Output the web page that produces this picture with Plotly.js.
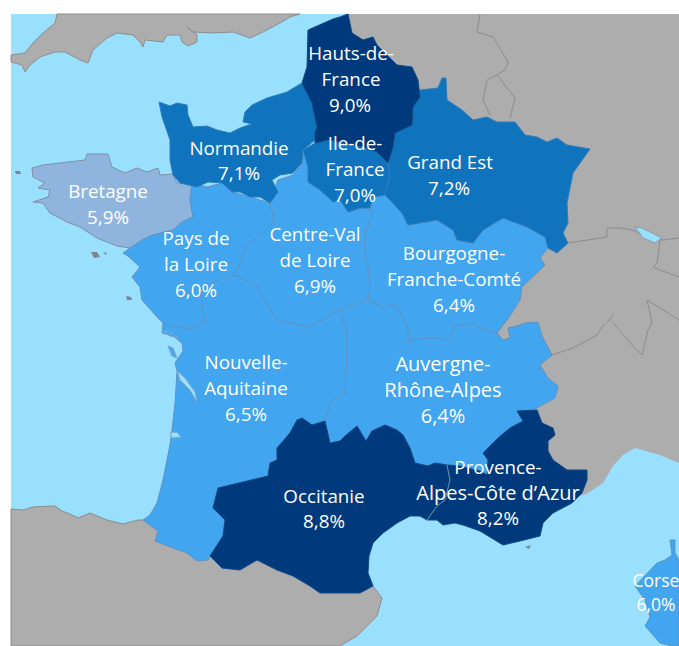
<!DOCTYPE html>
<html><head><meta charset="utf-8">
<script src="https://cdn.plot.ly/plotly-3.0.1.min.js"></script>
<style>html,body{margin:0;padding:0;background:#fff}#c{width:679px;height:646px}</style></head>
<body><div id="c"></div>
<script>
const regionNames=["Bretagne","Pays de la Loire","Centre-Val de Loire","Bourgogne-Franche-Comté","Nouvelle-Aquitaine","Auvergne-Rhône-Alpes","Corse","Normandie","Ile-de-France","Grand Est","Hauts-de-France","Occitanie","Provence-Alpes-Côte d’Azur"];
const regionRates=["5,9%","6,0%","6,9%","6,4%","6,5%","6,4%","6,0%","7,1%","7,0%","7,2%","9,0%","8,8%","8,2%"];

const seaColor="#99e0ff", landColor="#adadad", lightBlue="#41a5ef", midBlue="#0f73bd", darkBlue="#003a7d", paleBlue="#8fb5df";
const regionColors=[paleBlue,lightBlue,lightBlue,lightBlue,lightBlue,lightBlue,lightBlue,midBlue,midBlue,midBlue,darkBlue,darkBlue,darkBlue];
const regionEdges=["#7f8fa5","#5f93c4","#5f93c4","#5f93c4","#5f93c4","#5f93c4","#5f93c4","#2f7fbd","#2f7fbd","#2f7fbd","#0f4a86","#0f4a86","#0f4a86"];

const sea=[[11,14],[679,14],[679,646],[11,646]];
const uk=[[57,14],[55,23],[43,33],[33,43],[25,53],[11,55],[11,62],[22,65],[25,72],[30,65],[40,57],[55,52],[65,52],[80,60],[88,63],[93,50],[107,38],[117,33],[133,35],[140,42],[143,47],[145,40],[163,42],[167,35],[180,35],[182,42],[188,46],[197,42],[197,35],[187,27],[193,32],[213,33],[233,32],[250,38],[263,32],[280,23],[290,17],[300,14]];
const continent=[[348,14],[679,14],[679,463],[660,455],[635,448],[623,455],[613,466],[603,483],[588,493],[575,498],[500,400],[350,300]];
const spain=[[11,509],[23,510],[33,507],[55,506],[62,511],[70,514],[78,518],[90,513],[107,520],[123,524],[138,520],[143,520],[200,530],[360,560],[373,586],[382,598],[377,616],[357,636],[340,646],[11,646]];

const bretagne=[[32,168],[43,165],[60,163],[85,160],[87,154],[108,154],[112,167],[125,173],[137,168],[147,172],[158,168],[160,175],[173,174],[177,183],[192,183],[190,200],[193,217],[182,222],[173,230],[153,235],[142,240],[130,248],[117,246],[97,238],[80,227],[67,222],[50,213],[43,203],[33,202],[48,197],[50,190],[38,188],[45,183],[33,177]];
const paysDeLaLoire=[[192,183],[207,187],[222,183],[232,192],[250,197],[270,203],[273,213],[273,223],[263,233],[247,245],[240,263],[235,275],[220,280],[200,290],[205,323],[190,329],[170,326],[163,323],[157,317],[142,300],[140,287],[132,277],[140,267],[128,256],[123,253],[130,248],[142,240],[153,235],[173,230],[182,222],[193,217],[190,200]];
const centreValDeLoire=[[270,203],[278,180],[293,175],[303,163],[303,150],[308,167],[308,182],[320,190],[333,202],[340,200],[348,212],[360,208],[370,208],[372,217],[365,233],[365,250],[368,267],[370,287],[368,300],[340,310],[310,327],[277,320],[257,287],[235,275],[240,263],[247,245],[263,233],[273,223],[273,213]];
const bourgogneFC=[[373,197],[385,195],[402,213],[408,225],[437,220],[453,230],[457,240],[473,243],[483,230],[503,218],[527,227],[545,237],[548,248],[540,258],[545,265],[533,277],[522,287],[520,300],[507,320],[497,333],[480,328],[472,323],[455,326],[450,340],[427,338],[408,341],[408,330],[403,318],[395,304],[383,308],[368,300],[370,287],[368,267],[365,250],[365,233],[372,217],[370,208]];
const nouvelleAquitaine=[[163,323],[162,333],[173,336],[182,343],[183,351],[175,363],[177,371],[176,390],[175,403],[172,430],[170,445],[163,480],[157,503],[150,515],[143,520],[158,531],[155,541],[173,548],[187,553],[197,561],[208,560],[210,556],[223,536],[225,520],[213,508],[218,488],[240,483],[268,476],[270,463],[277,460],[277,448],[290,433],[297,420],[302,418],[312,425],[325,421],[330,403],[345,393],[347,360],[347,330],[340,310],[310,327],[277,320],[257,287],[235,275],[220,280],[200,290],[205,323],[190,329],[170,326]];
const auvergneRA=[[340,310],[368,300],[383,308],[395,304],[403,318],[408,330],[408,341],[427,338],[450,340],[455,326],[472,323],[480,328],[497,333],[503,340],[510,338],[508,328],[517,326],[525,323],[538,322],[542,336],[552,355],[540,365],[548,378],[558,386],[555,398],[537,408],[533,410],[517,411],[523,421],[510,428],[498,438],[490,446],[483,453],[488,460],[487,475],[480,471],[460,466],[447,465],[435,463],[428,466],[415,463],[410,448],[403,435],[397,430],[385,425],[372,431],[366,441],[357,426],[345,436],[340,441],[330,443],[325,421],[330,403],[345,393],[347,360],[347,330]];
const corse=[[670,540],[675,540],[675,553],[679,560],[679,646],[672,646],[660,643],[645,626],[650,617],[645,600],[635,586],[647,573],[657,563],[665,560],[672,555]];
const normandie=[[159,102],[170,106],[177,103],[187,105],[188,115],[193,127],[207,126],[217,130],[230,133],[240,128],[252,124],[243,122],[245,112],[252,105],[267,98],[287,92],[302,83],[312,103],[317,127],[315,140],[303,150],[302,163],[293,173],[280,175],[272,180],[278,192],[270,203],[260,197],[250,197],[240,192],[232,192],[222,183],[208,182],[197,187],[180,183],[173,175],[170,160],[170,140],[162,117]];
const ileDeFrance=[[303,150],[315,143],[328,140],[340,142],[368,148],[377,152],[388,163],[390,177],[385,195],[373,197],[370,208],[360,208],[348,212],[340,200],[333,202],[320,190],[308,182],[308,167]];
const grandEst=[[388,163],[393,147],[395,133],[412,125],[413,107],[420,90],[438,88],[442,78],[446,78],[447,100],[462,110],[473,120],[487,117],[497,122],[515,122],[525,135],[537,137],[547,142],[557,138],[567,145],[590,149],[573,173],[567,203],[568,223],[563,233],[568,243],[557,253],[548,248],[545,237],[527,227],[503,218],[483,230],[473,243],[457,240],[453,230],[437,220],[408,225],[402,213],[390,200],[385,195],[390,177]];
const hautsDeFrance=[[308,30],[320,25],[333,19],[340,17],[348,14],[352,33],[363,40],[373,37],[377,45],[385,53],[397,65],[412,67],[418,80],[420,97],[413,107],[412,125],[395,133],[393,147],[388,163],[377,152],[368,148],[340,142],[328,140],[315,143],[315,133],[317,127],[312,103],[302,83],[307,67]];
const occitanie=[[325,421],[330,443],[340,441],[345,436],[357,426],[366,441],[372,431],[385,425],[397,430],[403,435],[410,448],[415,463],[428,466],[435,463],[447,465],[450,480],[445,500],[437,506],[427,520],[420,516],[410,516],[397,523],[383,533],[373,543],[369,556],[368,573],[373,586],[360,593],[340,593],[320,593],[310,586],[293,576],[277,570],[257,560],[240,570],[222,568],[210,556],[223,536],[225,520],[213,508],[218,488],[240,483],[268,476],[270,463],[277,460],[277,448],[290,433],[297,420],[302,418],[312,425]];
const paca=[[447,465],[460,466],[480,471],[487,475],[488,460],[483,453],[490,446],[498,438],[510,428],[523,421],[517,411],[533,410],[537,410],[542,423],[553,428],[555,435],[548,441],[548,451],[553,460],[567,470],[587,470],[587,480],[582,493],[572,503],[553,513],[543,523],[540,536],[520,541],[503,545],[480,531],[463,525],[455,523],[443,525],[437,520],[427,520],[437,506],[445,500],[450,480]];
const regionShapes=[bretagne,paysDeLaLoire,centreValDeLoire,bourgogneFC,nouvelleAquitaine,auvergneRA,corse,normandie,ileDeFrance,grandEst,hautsDeFrance,occitanie,paca];

const estuary=[[177,371],[185,378],[195,392],[197,402],[190,390],[180,380]];
const arcachon=[[170,433],[177,432],[181,437],[172,438]];
const bodensee=[[635,227],[642,228],[662,238],[655,243],[643,238]];
const oleron=[[168,346],[173,348],[177,358],[172,356]];
const re=[[162,331],[170,332],[179,338],[170,336]];
const islands=[[[91,252],[97,252],[100,257],[94,258]],[[126,296],[131,297],[132,300],[127,300]],[[15,171],[20,171],[21,174],[16,174]],[[103,252],[107,253],[106,255]],[[525,547],[531,545],[529,549]]];

const borderLines=[
 [[480,14],[477,32],[493,37],[508,62],[505,70],[497,75],[487,80],[483,100],[490,115]],
 [[497,75],[515,98],[510,118]],
 [[568,243],[587,240],[607,237],[607,228],[620,228],[633,230],[645,237],[662,240],[679,238]],
 [[660,240],[657,263],[653,267],[660,270],[679,277]],
 [[552,355],[573,348],[597,335],[605,323]],
 [[613,323],[633,346],[642,355],[648,330],[652,323],[647,300],[660,308],[679,320]],
 [[607,323],[613,315]]
];
const occitaniePacaBorder=[[447,465],[450,480],[445,500],[437,506],[427,520]];

const labelLines=["Hauts-de-","France","9,0%","Normandie","7,1%","Ile-de-","France","7,0%","Grand Est","7,2%","Bretagne","5,9%","Pays de","la Loire","6,0%","Centre-Val","de Loire","6,9%","Bourgogne-","Franche-Comté","6,4%","Nouvelle-","Aquitaine","6,5%","Provence-","8,2%","Occitanie","8,8%"];
const labelX=[351,351,350,239,239,355,355,355,450,449,108,108,196,196,196,315,315,315,454,454,454,246,246,246,498,498,324,324];
const labelY=[55,81,107,150,175,145,171,197,164,190,193,219,240,266,292,236,262,288,255,281,307,364,390,416,469,520,498,523];
const largeLabelLines=["Auvergne-","Rhône-Alpes","6,4%","Alpes-Côte d’Azur"];
const largeLabelX=[443,443,443,498];
const largeLabelY=[366,392,418,495];
const corseLabelLines=["Corse","6,0%"];
const corseLabelX=[656,656];
const corseLabelY=[583,607];

function poly(pts,fill,edge,name){
  const x=pts.map(p=>p[0]).concat([pts[0][0]]), y=pts.map(p=>p[1]).concat([pts[0][1]]);
  return {type:"scatter",mode:edge?"lines":"none",x,y,fill:"toself",fillcolor:fill,line:{color:edge||fill,width:1},name:name||"",hoverinfo:name?"name":"skip",showlegend:false};
}
function polyline(pts,color){
  return {type:"scatter",mode:"lines",x:pts.map(p=>p[0]),y:pts.map(p=>p[1]),line:{color:color||"#8c8c8c",width:1},hoverinfo:"skip",showlegend:false};
}
function labels(x,y,text,size){
  return {type:"scatter",mode:"text",x,y,text,textposition:"middle center",cliponaxis:false,textfont:{family:"'Open Sans',sans-serif",size,color:"#ffffff"},hoverinfo:"skip",showlegend:false};
}
const traces=[poly(sea,seaColor),poly(uk,landColor,"#8c8c8c"),poly(continent,landColor),poly(spain,landColor,"#8c8c8c")];
borderLines.forEach(l=>traces.push(polyline(l)));
traces.push(poly(bodensee,seaColor,"#8c9aa5"));
regionShapes.forEach((s,i)=>traces.push(poly(s,regionColors[i],regionEdges[i],regionNames[i]+" "+regionRates[i])));
traces.push(polyline(occitaniePacaBorder,"#6d8fb0"));
traces.push(poly(estuary,seaColor,"#7fa8c8"),poly(arcachon,seaColor,"#7fa8c8"),poly(oleron,lightBlue,"#7fa8c8"),poly(re,lightBlue,"#7fa8c8"));
islands.forEach(s=>traces.push(poly(s,"#7b8790")));
traces.push(labels(labelX,labelY,labelLines,18.8));
traces.push(labels(largeLabelX,largeLabelY,largeLabelLines,20));
traces.push(labels(corseLabelX,corseLabelY,corseLabelLines,17.5));

Plotly.newPlot("c",traces,{
  width:679,height:646,margin:{l:0,r:0,t:0,b:0},paper_bgcolor:"#fff",plot_bgcolor:"#fff",showlegend:false,
  xaxis:{range:[0,679],visible:false,fixedrange:true},
  yaxis:{range:[646,0],visible:false,fixedrange:true}
},{displayModeBar:false,staticPlot:true});
</script></body></html>
